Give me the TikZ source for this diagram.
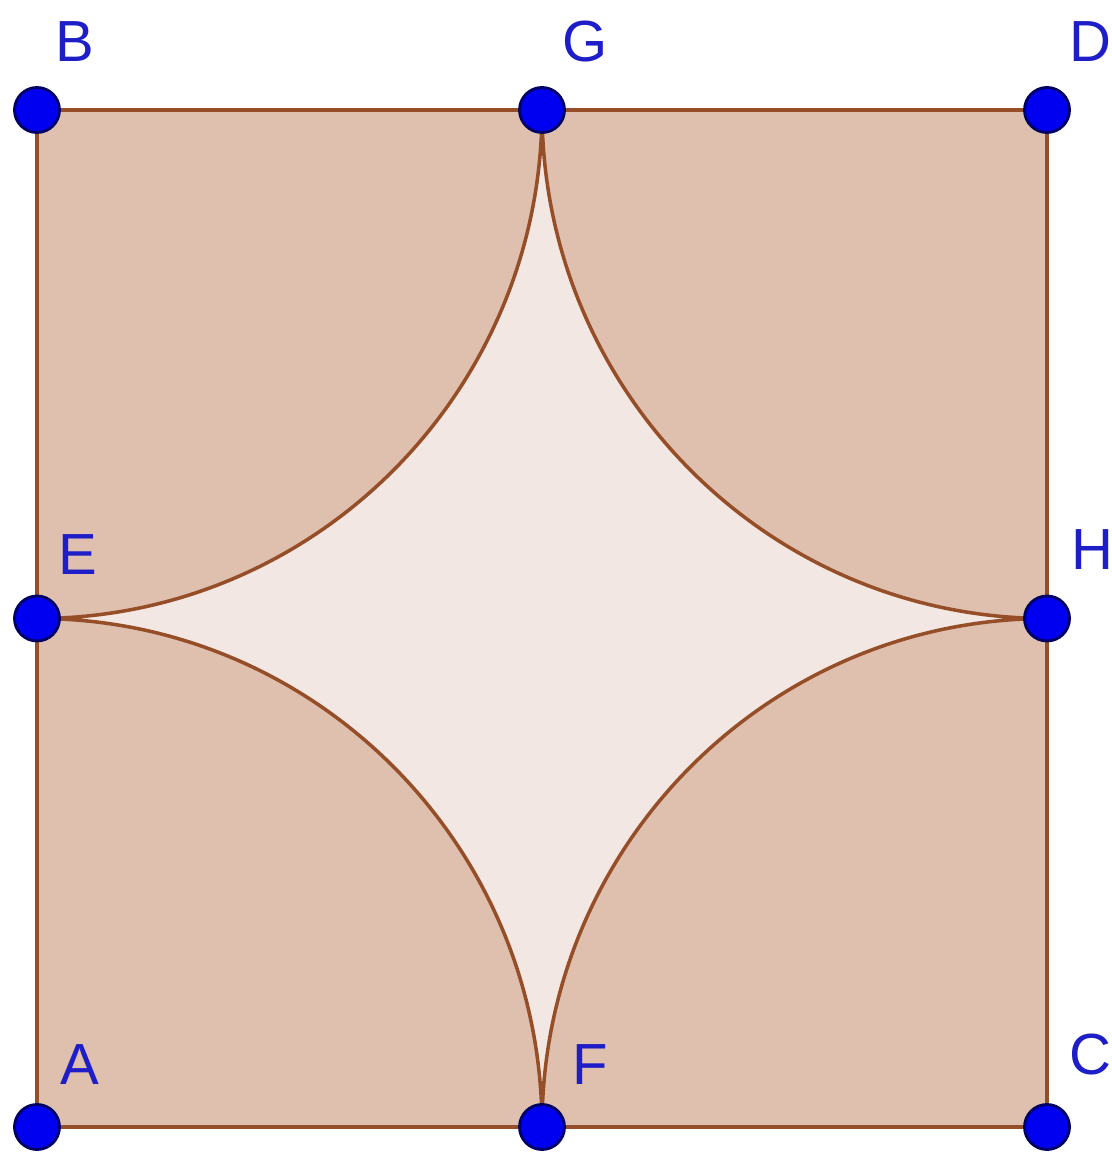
\documentclass[tikz,border=0pt]{standalone}
\usepackage{fontspec}
\setsansfont{Liberation Sans}
\definecolor{fillbrown}{RGB}{223,191,173}
\definecolor{lightfill}{RGB}{242,231,227}
\definecolor{edgebrown}{RGB}{150,78,40}
\definecolor{ptblue}{RGB}{0,0,240}
\definecolor{ptdark}{RGB}{0,0,100}
\definecolor{lblblue}{RGB}{30,30,200}
\begin{document}
\begin{tikzpicture}[x=0.01cm,y=0.01cm,
  pt/.style={circle,fill=ptblue,draw=ptdark,line width=0.8pt,minimum size=0.45cm,inner sep=0pt},
  lbl/.style={font=\sffamily\fontsize{16.5}{19}\selectfont,text=lblblue},
  edge/.style={draw=edgebrown,line width=1pt}]
\useasboundingbox (0,0) rectangle (1112,1157);
\coordinate (A) at (37,30);
\coordinate (B) at (37,1047);
\coordinate (C) at (1047,30);
\coordinate (D) at (1047,1047);
\coordinate (G) at (542,1047);
\coordinate (E) at (37,538.5);
\coordinate (H) at (1047,538.5);
\coordinate (F) at (542,30);
% square
\fill[fillbrown] (A) rectangle (D);
% star region
\path[fill=lightfill,edge] (G) arc[start angle=0,end angle=-90,x radius=505,y radius=508.5]
  arc[start angle=90,end angle=0,x radius=505,y radius=508.5]
  arc[start angle=180,end angle=90,x radius=505,y radius=508.5]
  arc[start angle=270,end angle=180,x radius=505,y radius=508.5] -- cycle;
\draw[edge] (A) -- (B) -- (D) -- (C) -- cycle;
% points
\foreach \p in {A,B,C,D,E,F,G,H} \node[pt] (n\p) at (\p) {};
% labels
\node[lbl] (lB) at (75,1115) {B};
\node[lbl] (lG) at (585,1115) {G};
\node[lbl] (lD) at (1090,1115) {D};
\node[lbl] (lE) at (78,602) {E};
\node[lbl] (lH) at (1092,607) {H};
\node[lbl] (lA) at (80,92) {A};
\node[lbl] (lF) at (590,92) {F};
\node[lbl] (lC) at (1090,102) {C};
\end{tikzpicture}
\end{document}
